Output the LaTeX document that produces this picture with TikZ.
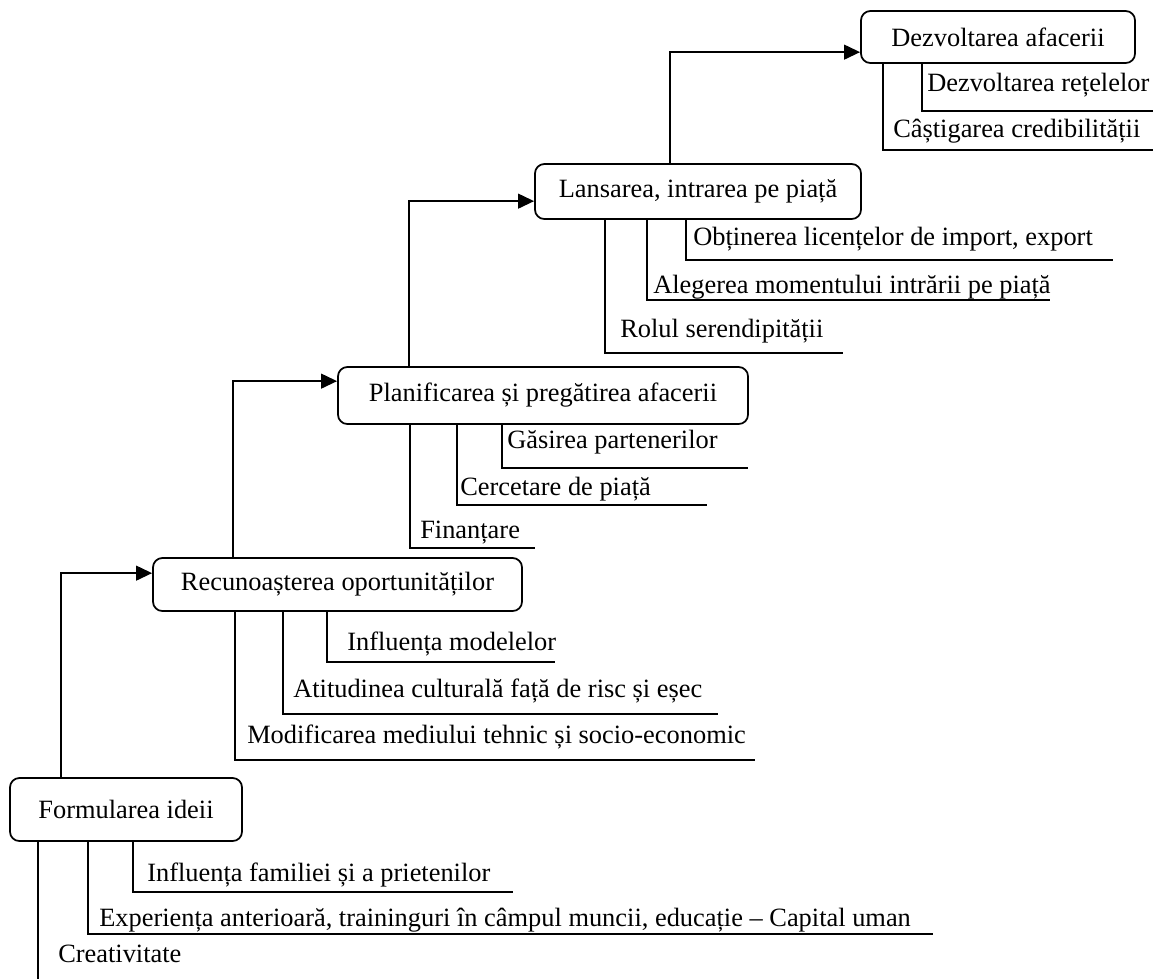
\documentclass[tikz,border=0pt]{standalone}
\usepackage{fontspec}
\setmainfont{Liberation Serif}
\usetikzlibrary{arrows.meta}
\begin{document}
\begin{tikzpicture}[x=0.75pt,y=-0.75pt,
  stage/.style={draw, line width=1.3pt, rounded corners=7pt, inner sep=0pt,
    font=\fontsize{19.8}{24}\selectfont},
  factor/.style={anchor=base west, inner sep=0pt, font=\fontsize{19.8}{24}\selectfont},
  flow/.style={line width=1.6pt, -{Triangle[length=12pt,width=11pt]}},
  branch/.style={line width=1.2pt}]
\useasboundingbox (0,0) rectangle (1153,979);

% stages of the entrepreneurial process
\node[stage, minimum width=174pt,   minimum height=47.25pt] (idea)   at (126,809.5) {Formularea ideii};
\node[stage, minimum width=276.75pt,minimum height=39.75pt] (recog)  at (337.5,584.5) {Recunoașterea oportunităților};
\node[stage, minimum width=307.5pt, minimum height=42.75pt] (plan)   at (543,395.5) {Planificarea și pregătirea afacerii};
\node[stage, minimum width=244.5pt, minimum height=41.25pt] (launch) at (698,191.5) {Lansarea, intrarea pe piață};
\node[stage, minimum width=205.5pt, minimum height=39pt]    (grow)   at (998,37) {Dezvoltarea afacerii};

% stage-to-stage arrows
\draw[flow] ([xshift=39pt]idea.north west)    |- ([yshift=-12pt]recog.north west);
\draw[flow] ([xshift=60.75pt]recog.north west) |- ([yshift=-11.25pt]plan.north west);
\draw[flow] ([xshift=54pt]plan.north west)    |- ([yshift=-28.5pt]launch.north west);
\draw[flow] ([xshift=102pt]launch.north west) |- ([yshift=-31.5pt]grow.north west);

% factors: Formularea ideii
\coordinate (iA) at (38,979);
\draw[branch] (idea.south -| iA) -- (iA);
\node[factor] (tiA) at (58,962) {Creativitate};
\coordinate (iB) at (88,934); \coordinate (iBe) at (933,934);
\draw[branch] (idea.south -| iB) -- (iB) -- (iBe);
\node[factor] (tiB) at (99,926) {Experiența anterioară, traininguri în câmpul muncii, educație – Capital uman};
\coordinate (iC) at (133,892); \coordinate (iCe) at (513,892);
\draw[branch] (idea.south -| iC) -- (iC) -- (iCe);
\node[factor] (tiC) at (147,881) {Influența familiei și a prietenilor};

% factors: Recunoașterea oportunităților
\coordinate (rA) at (235,760); \coordinate (rAe) at (755,760);
\draw[branch] (recog.south -| rA) -- (rA) -- (rAe);
\node[factor] (trA) at (247,743) {Modificarea mediului tehnic și socio-economic};
\coordinate (rB) at (283,714); \coordinate (rBe) at (718,714);
\draw[branch] (recog.south -| rB) -- (rB) -- (rBe);
\node[factor] (trB) at (293,697) {Atitudinea culturală față de risc și eșec};
\coordinate (rC) at (327,662); \coordinate (rCe) at (555,662);
\draw[branch] (recog.south -| rC) -- (rC) -- (rCe);
\node[factor] (trC) at (347,650) {Influența modelelor};

% factors: Planificarea și pregătirea afacerii
\coordinate (pA) at (410,548); \coordinate (pAe) at (535,548);
\draw[branch] (plan.south -| pA) -- (pA) -- (pAe);
\node[factor] (tpA) at (420,538) {Finanțare};
\coordinate (pB) at (457,505); \coordinate (pBe) at (707,505);
\draw[branch] (plan.south -| pB) -- (pB) -- (pBe);
\node[factor] (tpB) at (460,495) {Cercetare de piață};
\coordinate (pC) at (502,468); \coordinate (pCe) at (748,468);
\draw[branch] (plan.south -| pC) -- (pC) -- (pCe);
\node[factor] (tpC) at (507,448) {Găsirea partenerilor};

% factors: Lansarea, intrarea pe piață
\coordinate (lA) at (605,353); \coordinate (lAe) at (843,353);
\draw[branch] (launch.south -| lA) -- (lA) -- (lAe);
\node[factor] (tlA) at (620,337) {Rolul serendipității};
\coordinate (lB) at (647,300); \coordinate (lBe) at (1050,300);
\draw[branch] (launch.south -| lB) -- (lB) -- (lBe);
\node[factor] (tlB) at (653,293) {Alegerea momentului intrării pe piață};
\coordinate (lC) at (686,260); \coordinate (lCe) at (1113,260);
\draw[branch] (launch.south -| lC) -- (lC) -- (lCe);
\node[factor] (tlC) at (693,245) {Obținerea licențelor de import, export};

% factors: Dezvoltarea afacerii
\coordinate (dA) at (883,150); \coordinate (dAe) at (1153,150);
\draw[branch] (grow.south -| dA) -- (dA) -- (dAe);
\node[factor] (tdA) at (893,137) {Câștigarea credibilității};
\coordinate (dB) at (922,111); \coordinate (dBe) at (1153,111);
\draw[branch] (grow.south -| dB) -- (dB) -- (dBe);
\node[factor] (tdB) at (927,91) {Dezvoltarea rețelelor};
\end{tikzpicture}
\end{document}
